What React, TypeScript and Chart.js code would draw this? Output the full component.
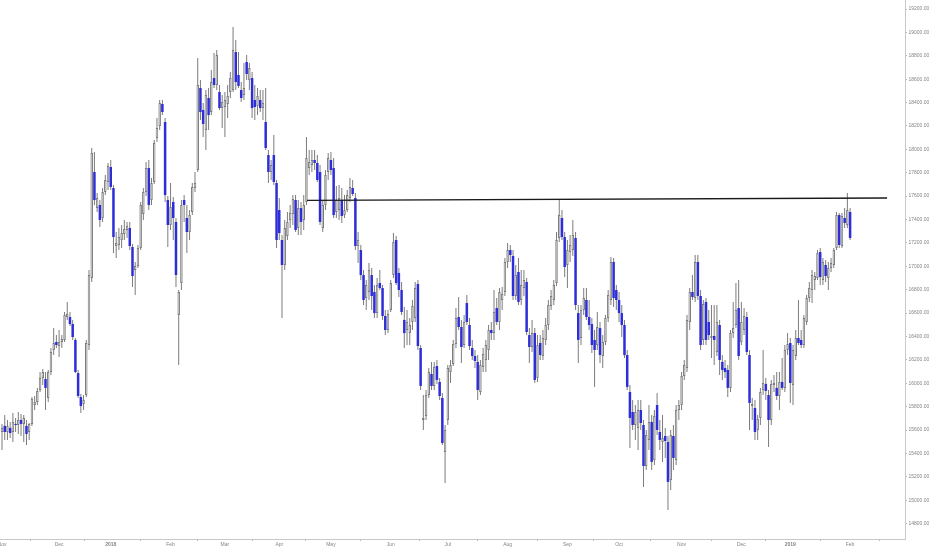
import React, { useEffect, useRef } from 'react';
import { Chart, registerables } from 'chart.js';

Chart.register(...registerables);

// [open, high, low, close]
type Candle = [number, number, number, number];

const nov17: Candle[] = [
  [15583, 15652, 15429, 15618], [15635, 15728, 15515, 15583], [15583, 15686, 15515, 15635],
  [15618, 15669, 15532, 15574], [15583, 15745, 15498, 15669], [15652, 15703, 15583, 15643],
  [15643, 15754, 15566, 15686], [15686, 15737, 15549, 15652], [15652, 15728, 15498, 15703],
  [15635, 15686, 15472, 15566], [15583, 15660, 15515, 15652], [15652, 15882, 15635, 15865],
  [15814, 15891, 15771, 15840], [15840, 15960, 15814, 15934], [15942, 16096, 15925, 16045],
  [16045, 16122, 15985, 16096], [16036, 16096, 15771, 15960], [15874, 16113, 15840, 16096],
  [16096, 16301, 16070, 16267], [16284, 16472, 16241, 16344], [16353, 16412, 16301, 16327],
];

const dec17: Candle[] = [
  [16318, 16455, 16224, 16353], [16353, 16412, 16301, 16378], [16370, 16609, 16353, 16583],
  [16566, 16695, 16541, 16592], [16566, 16609, 16489, 16506], [16506, 16541, 16370, 16395],
  [16370, 16387, 16087, 16096], [16087, 16113, 15874, 15891], [15882, 15908, 15745, 15805],
  [15822, 15899, 15771, 15857], [15899, 16370, 15882, 16344], [16327, 16968, 16284, 16925],
  [16900, 18011, 16866, 17969], [17806, 17977, 17524, 17567], [17498, 17626, 17464, 17584],
  [17524, 17567, 17336, 17396], [17413, 17669, 17379, 17635], [17635, 17780, 17609, 17738],
  [17721, 17883, 17652, 17857],
];

const jan18: Candle[] = [
  [17849, 17909, 17652, 17678], [17669, 17695, 17113, 17250], [17173, 17293, 17071, 17199],
  [17182, 17327, 17139, 17250], [17225, 17353, 17156, 17284], [17276, 17396, 17225, 17319],
  [17310, 17379, 17242, 17344], [17327, 17379, 17139, 17173], [17165, 17190, 16823, 16917],
  [16968, 17037, 16754, 17002], [17002, 17182, 16985, 17156], [17156, 17550, 17139, 17524],
  [17447, 17669, 17396, 17635], [17635, 17892, 17601, 17840], [17840, 17909, 17481, 17524],
  [17567, 17755, 17524, 17712], [17721, 18080, 17704, 18054], [18097, 18268, 18063, 18182],
  [18199, 18422, 18165, 18396], [18388, 18422, 18293, 18319], [18234, 18268, 17550, 17609],
  [17567, 17601, 17165, 17353],
];

const feb18: Candle[] = [
  [17353, 17712, 17310, 17507], [17550, 17592, 17225, 17413], [17379, 17413, 16823, 16925],
  [16583, 16797, 16156, 16780], [16857, 17567, 16797, 17524], [17567, 17609, 17379, 17524],
  [17413, 17524, 17113, 17293], [17293, 17481, 17225, 17438], [17464, 17712, 17438, 17678],
  [17669, 17806, 17635, 17712], [17823, 18781, 17806, 18550], [18524, 18593, 18251, 18319],
  [18336, 18396, 18106, 18217], [18165, 18507, 17994, 18465], [18439, 18524, 18165, 18293],
  [18319, 18678, 18293, 18576], [18610, 18824, 18524, 18550], [18550, 18849, 18507, 18807],
  [18490, 18550, 18336, 18353], [18353, 18465, 18182, 18405],
];

const mar18: Candle[] = [
  [18362, 18490, 18106, 18422], [18388, 18550, 18268, 18456], [18490, 18661, 18439, 18610],
  [18507, 19046, 18490, 18849], [18832, 18935, 18507, 18576], [18636, 18832, 18524, 18542],
  [18507, 18576, 18405, 18439], [18465, 18738, 18422, 18524], [18747, 18807, 18593, 18644],
  [18593, 18738, 18507, 18695], [18610, 18661, 18268, 18353], [18422, 18550, 18251, 18362],
  [18370, 18524, 18293, 18456], [18422, 18507, 18319, 18353], [18353, 18507, 18251, 18396],
  [18234, 18524, 17994, 18011], [17951, 17994, 17712, 17806], [17806, 17909, 17738, 17866],
  [17951, 18123, 17695, 17721], [17712, 17738, 17156, 17225],
];

const apr18: Candle[] = [
  [17481, 17584, 17225, 17284], [17225, 17267, 16558, 17011], [17011, 17396, 16968, 17327],
  [17259, 17464, 17225, 17379], [17396, 17524, 17327, 17455], [17447, 17609, 17353, 17575],
  [17567, 17609, 17293, 17310], [17327, 17567, 17267, 17498], [17498, 17550, 17267, 17379],
  [17396, 17609, 17310, 17524], [17550, 18106, 17524, 17926], [17840, 17994, 17780, 17892],
  [17866, 17994, 17806, 17909], [17909, 17994, 17823, 17883], [17883, 17951, 17721, 17738],
  [17806, 17866, 17353, 17379], [17327, 17567, 17293, 17524], [17524, 17823, 17481, 17780],
  [17806, 17969, 17738, 17926],
];

const may18: Candle[] = [
  [17909, 17977, 17780, 17823], [17840, 17926, 17413, 17438], [17464, 17686, 17413, 17567],
  [17481, 17695, 17396, 17584], [17567, 17669, 17370, 17430], [17438, 17609, 17413, 17481],
  [17481, 17652, 17464, 17609], [17584, 17755, 17550, 17678], [17669, 17738, 17601, 17618],
  [17584, 17626, 17139, 17173], [17173, 17293, 17028, 17225], [17139, 17182, 16883, 16925],
  [16925, 16968, 16669, 16712], [16729, 16883, 16626, 16840], [16780, 17028, 16712, 16968],
  [16925, 16985, 16626, 16746], [16780, 16840, 16558, 16600], [16600, 16900, 16558, 16840],
  [16857, 16968, 16797, 16814], [16814, 16840, 16541, 16575], [16575, 16626, 16412, 16455],
  [16455, 16626, 16429, 16592],
];

const jun18: Candle[] = [
  [16626, 16883, 16609, 16857], [16925, 17284, 16900, 17207], [17225, 17259, 16840, 16857],
  [16943, 16985, 16737, 16797], [16797, 16866, 16583, 16609], [16541, 16652, 16301, 16429],
  [16455, 16626, 16327, 16524], [16429, 16558, 16327, 16498], [16524, 16712, 16455, 16660],
  [16558, 16866, 16524, 16814], [16849, 16883, 16284, 16318], [16301, 16327, 15942, 15977],
  [15686, 15899, 15600, 15703], [15720, 15942, 15686, 15899], [15899, 16130, 15874, 16096],
  [16079, 16182, 15942, 15977], [15977, 16182, 15942, 16139], [16147, 16199, 15994, 16028],
  [16011, 16045, 15857, 15891], [15874, 15917, 15472, 15489], [15412, 15643, 15147, 15600],
];

const jul18: Candle[] = [
  [15686, 16156, 15643, 16130], [16096, 16199, 16002, 16156], [16164, 16370, 16147, 16335],
  [16335, 16643, 16301, 16558], [16566, 16737, 16455, 16481], [16481, 16541, 16173, 16310],
  [16327, 16583, 16301, 16524], [16686, 16754, 16498, 16524], [16498, 16558, 16284, 16318],
  [16301, 16370, 16199, 16233], [16233, 16284, 16130, 16190], [16182, 16241, 15857, 15942],
  [15925, 16199, 15899, 16156], [16139, 16301, 16096, 16250], [16199, 16370, 16096, 16327],
  [16284, 16498, 16199, 16455], [16455, 16524, 16370, 16429], [16429, 16797, 16370, 16609],
  [16643, 16729, 16498, 16524], [16524, 16814, 16455, 16780], [16712, 16823, 16626, 16763],
  [16780, 17071, 16746, 17037],
];

const aug18: Candle[] = [
  [17037, 17199, 16985, 17139], [17139, 17182, 17037, 17096], [17088, 17139, 16712, 16746],
  [16746, 17011, 16712, 16925], [16951, 17071, 16669, 16695], [16712, 16968, 16669, 16840],
  [16814, 16968, 16746, 16883], [16866, 16900, 16412, 16438], [16412, 16472, 16173, 16310],
  [16310, 16541, 16267, 16429], [16429, 16472, 16002, 16028], [16045, 16412, 16011, 16327],
  [16344, 16412, 16199, 16241], [16233, 16455, 16199, 16387], [16370, 16558, 16327, 16498],
  [16498, 16712, 16455, 16669], [16660, 16797, 16626, 16746], [16712, 16883, 16669, 16840],
  [16857, 17293, 16831, 17225], [17242, 17567, 17207, 17438], [17413, 17481, 17225, 17250],
  [17250, 17293, 16908, 16994],
];

const sep18: Candle[] = [
  [17011, 17225, 16814, 17139], [17122, 17267, 17037, 17182], [17139, 17396, 17088, 17267],
  [17242, 17293, 16626, 16669], [16600, 16669, 16173, 16370], [16387, 16669, 16327, 16626],
  [16626, 16814, 16583, 16729], [16712, 16814, 16541, 16566], [16566, 16712, 16455, 16498],
  [16506, 16558, 16258, 16327], [16370, 16455, 15968, 16284], [16327, 16609, 16284, 16481],
  [16472, 16524, 16173, 16241], [16233, 16412, 16130, 16353], [16353, 16583, 16327, 16558],
  [16558, 16797, 16524, 16754], [16712, 17079, 16669, 17037], [17037, 17071, 16652, 16729],
  [16797, 16840, 16626, 16712],
];

const oct18: Candle[] = [
  [16712, 16780, 16524, 16600], [16600, 16669, 16395, 16498], [16498, 16541, 16216, 16241],
  [16241, 16284, 15942, 15968], [15925, 15985, 15446, 15703], [15754, 15857, 15600, 15643],
  [15643, 15814, 15515, 15754], [15618, 15857, 15429, 15771], [15771, 15857, 15600, 15660],
  [15643, 15686, 15113, 15292], [15292, 15600, 15258, 15557], [15515, 15814, 15429, 15669],
  [15669, 15728, 15258, 15327], [15344, 15771, 15301, 15720], [15814, 15917, 15557, 15600],
  [15583, 15686, 15429, 15515], [15498, 15728, 15327, 15532], [15549, 15618, 15361, 15506],
  [15498, 15549, 14916, 15156], [15173, 15600, 15087, 15557], [15549, 15643, 15258, 15361],
  [15344, 15814, 15301, 15771], [15771, 15857, 15686, 15814],
];

const nov18: Candle[] = [
  [15814, 16096, 15771, 16062], [16062, 16199, 16028, 16156], [16130, 16583, 16096, 16541],
  [16524, 16814, 16455, 16780], [16780, 16925, 16712, 16737], [16729, 17096, 16695, 17037],
  [17037, 17096, 16712, 16746], [16746, 16797, 16284, 16327], [16370, 16712, 16327, 16677],
  [16695, 16729, 16327, 16370], [16524, 16626, 16370, 16412], [16387, 16669, 16216, 16404],
  [16404, 16669, 16156, 16370], [16267, 16669, 16233, 16524], [16498, 16541, 16070, 16199],
  [16182, 16241, 16028, 16113], [16130, 16199, 16045, 16096], [16113, 16156, 15882, 15960],
  [15960, 16455, 15925, 16429], [16429, 16695, 16387, 16472], [16498, 16857, 16472, 16626],
  [16643, 16883, 16199, 16233],
];

const dec18: Candle[] = [
  [16353, 16695, 16327, 16524], [16455, 16643, 16412, 16575], [16566, 16609, 16241, 16267],
  [16241, 16284, 15600, 15831], [15805, 15874, 15686, 15822], [15788, 15857, 15515, 15583],
  [15600, 15728, 15515, 15694], [15703, 15960, 15643, 15925], [15942, 16284, 15899, 16002],
  [15994, 16045, 15857, 15934], [15899, 15942, 15455, 15686], [15686, 16028, 15643, 15994],
  [15985, 16070, 15925, 16002], [15960, 16096, 15857, 15891], [15891, 16096, 15771, 16011],
  [16011, 16216, 15942, 15960], [15960, 16327, 15925, 16284], [16284, 16429, 16241, 16335],
];

const jan19: Candle[] = [
  [16344, 16387, 15831, 16002], [15985, 16327, 15814, 16284], [16233, 16455, 16199, 16387],
  [16387, 16712, 16327, 16344], [16370, 16455, 16301, 16327], [16327, 16583, 16301, 16558],
  [16524, 16754, 16498, 16729], [16729, 16866, 16695, 16814], [16797, 16968, 16686, 16925],
  [16883, 16951, 16797, 16917], [16900, 17139, 16883, 17113], [17122, 17156, 16840, 16908],
  [16883, 17071, 16840, 17037], [17011, 17054, 16866, 16917], [16900, 17037, 16797, 16985],
  [16985, 17071, 16951, 17028], [17011, 17156, 16985, 17139], [17156, 17464, 17139, 17438],
  [17438, 17455, 17156, 17182], [17173, 17455, 17156, 17430], [17413, 17498, 17327, 17370],
  [17353, 17626, 17327, 17481],
];

const feb19: Candle[] = [[17464, 17498, 17225, 17242]];

const candles: Candle[] = [
  ...nov17, ...dec17, ...jan18, ...feb18, ...mar18, ...apr18, ...may18, ...jun18,
  ...jul18, ...aug18, ...sep18, ...oct18, ...nov18, ...dec18, ...jan19, ...feb19,
];

// bar index where each month label sits
const monthTickIdx = [0, 21, 40, 62, 82, 102, 121, 143, 164, 186, 208, 227, 250, 272, 290, 312];
const monthTickLabels = ['Nov', 'Dec', '2018', 'Feb', 'Mar', 'Apr', 'May', 'Jun', 'Jul', 'Aug', 'Sep', 'Oct', 'Nov', 'Dec', '2019', 'Feb'];

const priceTicks = [
  14800, 15000, 15200, 15400, 15600, 15800, 16000, 16200, 16400, 16600, 16800, 17000,
  17200, 17400, 17600, 17800, 18000, 18200, 18400, 18600, 18800, 19000, 19200,
];

// drawn resistance line: [bar index, price]
const resistanceIdx = [112.2, 325.6];
const resistancePrice = [17564, 17584];

const BEAR = '#2e2ed8';
const BULL_FILL = '#f3f3f3';
const BULL_EDGE = '#7a7a7a';
const WICK = '#7c7c7c';
const AXIS = '#c8c8c8';
const LABEL = '#858585';
const FONT = 'Liberation Sans';

export default function App() {
  const ref = useRef<HTMLCanvasElement | null>(null);

  useEffect(() => {
    document.body.style.margin = '0';
    const canvas = ref.current;
    if (!canvas) return;
    const up = candles.map((c) => c[3] >= c[0]);

    const chart = new Chart(canvas, {
      type: 'bar',
      data: {
        datasets: [
          {
            type: 'line',
            data: resistanceIdx.map((x, i) => ({ x, y: resistancePrice[i] })),
            borderColor: '#1a1a1a',
            borderWidth: 1.3,
            pointRadius: 0,
            order: 0,
          } as any,
          {
            type: 'bar',
            data: candles.map((c, i) => ({ x: i, y: [Math.min(c[0], c[3]), Math.max(c[0], c[3])] })),
            backgroundColor: up.map((u) => (u ? BULL_FILL : BEAR)),
            borderColor: up.map((u) => (u ? BULL_EDGE : BEAR)),
            borderWidth: up.map((u) => (u ? 1 : 0)),
            borderSkipped: false,
            barThickness: 2.5,
            inflateAmount: 0,
            grouped: false,
            order: 1,
          } as any,
          {
            type: 'bar',
            data: candles.map((c, i) => ({ x: i, y: [c[2], c[1]] })),
            backgroundColor: WICK,
            borderWidth: 0,
            barThickness: 1,
            inflateAmount: 0,
            grouped: false,
            order: 2,
          } as any,
        ],
      },
      options: {
        responsive: false,
        animation: false,
        layout: { padding: 0 },
        plugins: { legend: { display: false }, tooltip: { enabled: false } },
        scales: {
          x: {
            type: 'linear',
            min: -0.74,
            max: 332.2,
            offset: false,
            afterBuildTicks: (s: any) => {
              s.ticks = monthTickIdx.map((v) => ({ value: v }));
            },
            afterFit: (s: any) => {
              s.height = 11;
              s.paddingLeft = 0;
              s.paddingRight = 0;
            },
            ticks: {
              autoSkip: false,
              maxRotation: 0,
              minRotation: 0,
              padding: 1,
              color: LABEL,
              font: (ctx: any) => ({
                family: FONT,
                size: 5,
                weight: /^\d{4}$/.test(monthTickLabels[ctx.index] || '') ? 'bold' : 'normal',
              }),
              callback: (_v: any, i: number) => monthTickLabels[i],
            },
            grid: { drawOnChartArea: false, drawTicks: true, tickLength: 2, color: '#b4b4b4' },
            border: { display: true, color: AXIS, width: 1 },
          },
          y: {
            type: 'linear',
            position: 'right',
            min: 14668,
            max: 19277,
            afterBuildTicks: (s: any) => {
              s.ticks = priceTicks.map((v) => ({ value: v }));
            },
            afterFit: (s: any) => {
              s.width = 27;
              s.paddingTop = 0;
              s.paddingBottom = 0;
            },
            ticks: {
              padding: 1.5,
              color: LABEL,
              font: { family: FONT, size: 5 },
              callback: (v: any) => Number(v).toFixed(2),
            },
            grid: { drawOnChartArea: false, drawTicks: true, tickLength: 2, color: '#b4b4b4' },
            border: { display: true, color: AXIS, width: 1 },
          },
        },
      } as any,
    });

    return () => chart.destroy();
  }, []);

  return (
    <div style={{ position: 'fixed', left: 0, top: 0, width: 932, height: 550, background: '#fff' }}>
      <canvas ref={ref} width={932} height={550} style={{ display: 'block', width: 932, height: 550 }} />
    </div>
  );
}
